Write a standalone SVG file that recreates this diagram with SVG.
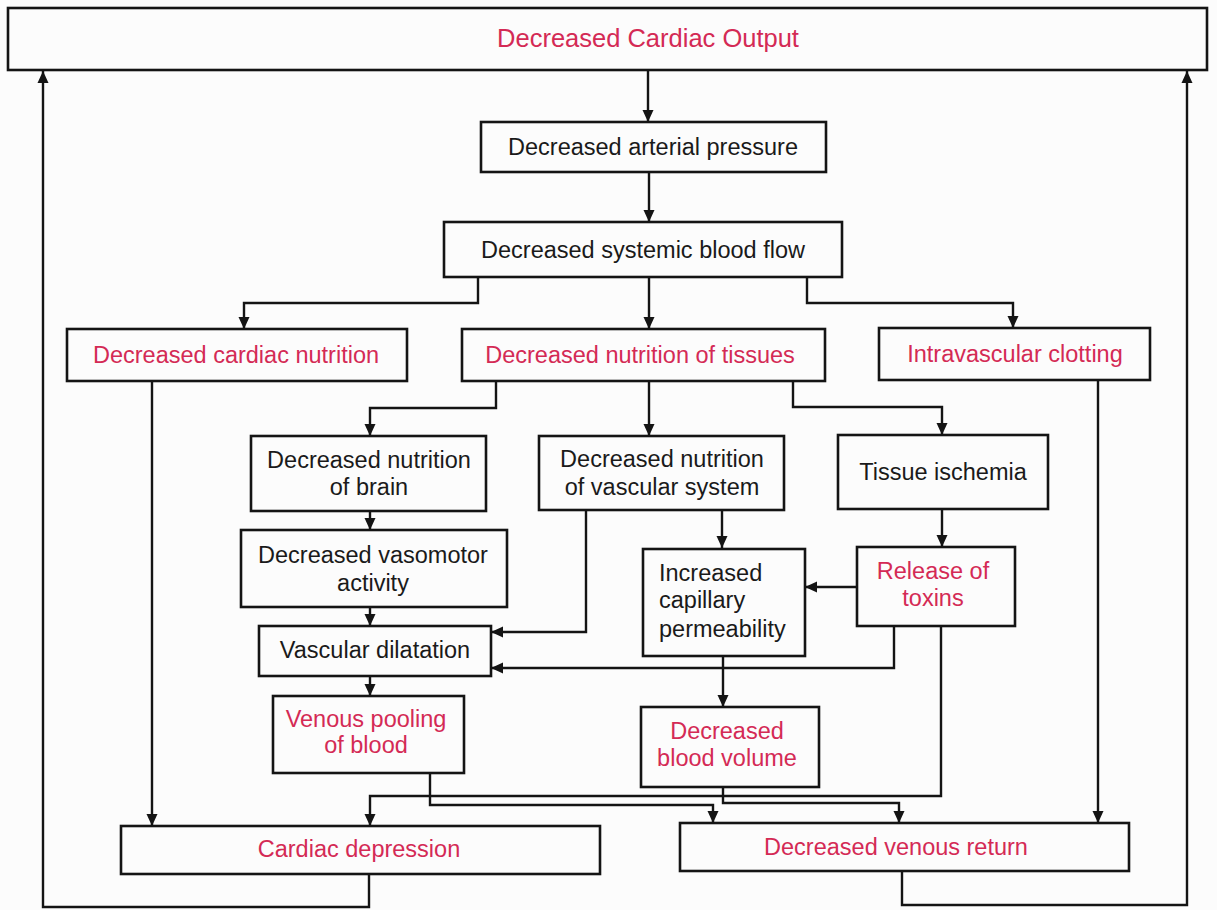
<svg xmlns="http://www.w3.org/2000/svg" width="1217" height="910" viewBox="0 0 1217 910">
<style>
.box{fill:none;stroke:#141414;stroke-width:2.6}
.t{font-family:"Liberation Sans",Arial,sans-serif;font-size:23.5px;fill:#1a1a1a;text-anchor:middle}
.r{fill:#d42a55}
.l{text-anchor:start}
.big{font-size:25.5px}
.c{fill:none;stroke:#141414;stroke-width:2.4;marker-end:url(#a)}
</style>
<defs>
<marker id="a" markerUnits="userSpaceOnUse" markerWidth="12" markerHeight="14" viewBox="0 0 12 14" refX="12" refY="7" orient="auto">
<path d="M0,1.5 L12,7 L0,12.5 Z" fill="#141414"/>
</marker>
</defs>
<rect width="1217" height="910" fill="#fcfcfc"/>
<g id="connectors">
<polyline class="c" points="648,71 648,122"/>
<polyline class="c" points="649,172 649,222"/>
<polyline class="c" points="478,277 478,303 244,303 244,329"/>
<polyline class="c" points="649,277 649,329"/>
<polyline class="c" points="807,277 807,303 1013,303 1013,328"/>
<polyline class="c" points="496,381 496,408 370,408 370,436"/>
<polyline class="c" points="649,381 649,436"/>
<polyline class="c" points="793,381 793,407 942,407 942,435"/>
<polyline class="c" points="370,511 370,530"/>
<polyline class="c" points="370,607 370,626"/>
<polyline class="c" points="370,676 370,696"/>
<polyline class="c" points="586,510 586,632 491,632"/>
<polyline class="c" points="722,510 722,548"/>
<polyline class="c" points="942,509 942,547"/>
<polyline class="c" points="857,587 805,587"/>
<polyline class="c" points="894,626 894,668 491,668"/>
<polyline class="c" points="723,656 723,707"/>
<polyline class="c" points="941,626 941,796 370,796 370,826"/>
<polyline class="c" points="430,773 430,805 713,805 713,823"/>
<polyline class="c" points="723,787 723,803 899,803 899,823"/>
<polyline class="c" points="1098,381 1098,823"/>
<polyline class="c" points="152,382 152,826"/>
<polyline class="c" points="369,874 369,907 43,907 43,71"/>
<polyline class="c" points="902,871 902,905 1187,905 1187,71"/>
</g>
<g id="n-cardiac-output"><rect class="box" x="8" y="8" width="1199" height="62"/><text class="t r big" x="648" y="47">Decreased Cardiac Output</text></g>
<g id="n-arterial-pressure"><rect class="box" x="481" y="122" width="345" height="50"/><text class="t" x="653" y="155">Decreased arterial pressure</text></g>
<g id="n-systemic-flow"><rect class="box" x="444" y="222" width="398" height="55"/><text class="t" x="643" y="258">Decreased systemic blood flow</text></g>
<g id="n-cardiac-nutrition"><rect class="box" x="67" y="329" width="340" height="52"/><text class="t r" x="236" y="363">Decreased cardiac nutrition</text></g>
<g id="n-tissue-nutrition"><rect class="box" x="462" y="329" width="363" height="52"/><text class="t r" x="640" y="363">Decreased nutrition of tissues</text></g>
<g id="n-clotting"><rect class="box" x="879" y="328" width="271" height="52"/><text class="t r" x="1015" y="362">Intravascular clotting</text></g>
<g id="n-brain"><rect class="box" x="251" y="436" width="235" height="75"/><text class="t" x="369" y="468">Decreased nutrition</text><text class="t" x="369" y="495">of brain</text></g>
<g id="n-vascular-system"><rect class="box" x="539" y="436" width="245" height="74"/><text class="t" x="662" y="467">Decreased nutrition</text><text class="t" x="662" y="495">of vascular system</text></g>
<g id="n-ischemia"><rect class="box" x="838" y="435" width="210" height="74"/><text class="t" x="943" y="480">Tissue ischemia</text></g>
<g id="n-vasomotor"><rect class="box" x="241" y="530" width="266" height="77"/><text class="t" x="373" y="563">Decreased vasomotor</text><text class="t" x="373" y="591">activity</text></g>
<g id="n-dilatation"><rect class="box" x="259" y="626" width="232" height="50"/><text class="t" x="375" y="658">Vascular dilatation</text></g>
<g id="n-permeability"><rect class="box" x="643" y="549" width="162" height="107"/><text class="t l" x="659" y="581">Increased</text><text class="t l" x="659" y="608">capillary</text><text class="t l" x="659" y="637">permeability</text></g>
<g id="n-toxins"><rect class="box" x="857" y="547" width="158" height="79"/><text class="t r" x="933" y="579">Release of</text><text class="t r" x="933" y="606">toxins</text></g>
<g id="n-pooling"><rect class="box" x="273" y="696" width="191" height="77"/><text class="t r" x="366" y="727">Venous pooling</text><text class="t r" x="366" y="753">of blood</text></g>
<g id="n-blood-volume"><rect class="box" x="641" y="707" width="178" height="80"/><text class="t r" x="727" y="739">Decreased</text><text class="t r" x="727" y="766">blood volume</text></g>
<g id="n-cardiac-depression"><rect class="box" x="121" y="826" width="479" height="48"/><text class="t r" x="359" y="857">Cardiac depression</text></g>
<g id="n-venous-return"><rect class="box" x="680" y="823" width="449" height="48"/><text class="t r" x="896" y="855">Decreased venous return</text></g>
</svg>
